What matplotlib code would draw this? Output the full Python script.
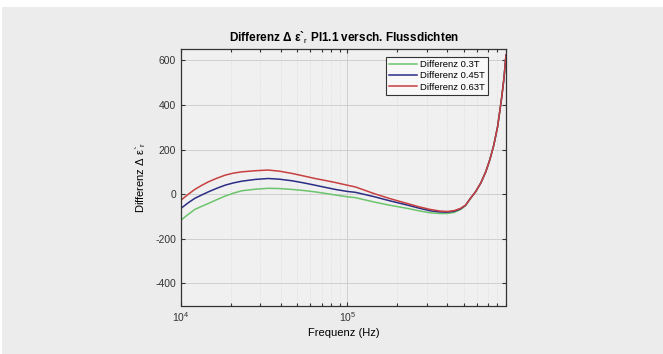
import matplotlib
matplotlib.use("Agg")
import matplotlib.pyplot as plt
from matplotlib.patches import Rectangle
from matplotlib.ticker import LogLocator, NullFormatter, FixedLocator

plt.rcParams['font.family'] = ['Liberation Sans', 'DejaVu Sans']
plt.rcParams['mathtext.fontset'] = 'custom'
plt.rcParams['mathtext.rm'] = 'Liberation Sans'
plt.rcParams['mathtext.it'] = 'Liberation Sans'
plt.rcParams['axes.unicode_minus'] = False

freq = [1.0e4, 1.1e4, 1.21e4, 1.33e4, 1.46e4, 1.64e4, 1.84e4, 2.06e4, 2.32e4,
        2.8e4, 3.34e4, 3.9e4, 4.64e4, 5.5e4, 6.4e4, 7.4e4, 8.47e4, 1.0e5,
        1.12e5, 1.44e5, 1.8e5, 2.29e5, 2.7e5, 3.16e5, 3.6e5, 4.0e5, 4.4e5,
        4.8e5, 5.14e5, 5.5e5, 5.9e5, 6.35e5, 6.8e5, 7.2e5, 7.6e5, 8.0e5,
        8.25e5, 8.5e5, 8.75e5, 9.0e5]
diff_03 = [-117, -92, -69, -55, -42, -25, -9, 4, 15, 22, 26, 25, 21, 16, 10, 3,
           -4, -12, -16, -35, -50, -64, -75, -84, -87, -87, -82, -69,
           -52, -20, 10, 50, 100, 155, 220, 300, 370, 440, 520, 625]
diff_045 = [-64, -40, -19, -4, 10, 26, 40, 50, 58, 66, 70, 67, 60, 50, 40, 30,
            21, 12, 8, -11, -30, -49, -63, -75, -80, -81, -77, -66,
            -50, -19, 10, 50, 100, 155, 220, 300, 370, 440, 520, 625]
diff_063 = [-27, -2, 21, 39, 55, 71, 85, 94, 100, 105, 108, 103, 93, 81, 70, 61,
            52, 40, 32, 3, -20, -42, -57, -69, -76, -78, -74, -64,
            -50, -19, 10, 50, 100, 155, 220, 300, 370, 440, 520, 625]
labels = ['Differenz 0.3T', 'Differenz 0.45T', 'Differenz 0.63T']
colors = ['#6cc46c', '#2c2c86', '#c84040']
yticks = [-400, -200, 0, 200, 400, 600]

fig = plt.figure(figsize=(6.63, 3.54), dpi=100, facecolor='white')
fig.patches.append(Rectangle((2/663, 0), 1, 1 - 7/354, transform=fig.transFigure,
                             facecolor='#ececec', edgecolor='none', zorder=-10))

ax = fig.add_axes([181/663, 1 - 305.5/354, (506 - 181)/663, (305.5 - 49.3)/354])
ax.set_facecolor('#f0f0f0')

for y, lab, c in zip([diff_03, diff_045, diff_063], labels, colors):
    ax.plot(freq, y, color=c, lw=1.1, label=lab)

ax.set_xscale('log')
ax.set_xlim(1e4, 9e5)
ax.set_ylim(-500, 650)
ax.set_yticks(yticks)
ax.xaxis.set_major_locator(FixedLocator([1e4, 1e5]))
ax.xaxis.set_minor_locator(LogLocator(base=10, subs=range(2, 10), numticks=20))
ax.xaxis.set_minor_formatter(NullFormatter())

ax.grid(True, which='major', color='#d0d0d0', lw=0.7)
ax.grid(True, which='minor', axis='x', color='#dadada', lw=0.6, ls=':')
ax.set_axisbelow(True)

ax.tick_params(which='both', direction='in', top=True, right=True,
               labelsize=7.5, colors='#333333', width=0.8)
ax.tick_params(which='major', length=3)
ax.tick_params(which='minor', length=2)
for s in ax.spines.values():
    s.set_color('#333333')
    s.set_linewidth(0.9)

ax.set_title('Differenz Δ ε`${}_{r}$ PI1.1 versch. Flussdichten', fontsize=8.5,
             fontweight='bold', pad=5)
ax.set_xlabel('Frequenz (Hz)', fontsize=8, labelpad=3)
ax.set_ylabel('Differenz Δ ε`${}_{r}$', fontsize=8, labelpad=5)

leg = ax.legend(loc='upper right', fontsize=6.8, frameon=True, fancybox=False,
                handlelength=3.0, handletextpad=0.3, borderpad=0.35,
                labelspacing=0.25, bbox_to_anchor=(0.96, 0.99))
leg.get_frame().set_edgecolor('#333333')
leg.get_frame().set_linewidth(0.8)
leg.get_frame().set_facecolor('#f8f8f8')
leg.get_frame().set_alpha(1)

fig.savefig('out.png', dpi=100, facecolor=fig.get_facecolor())
